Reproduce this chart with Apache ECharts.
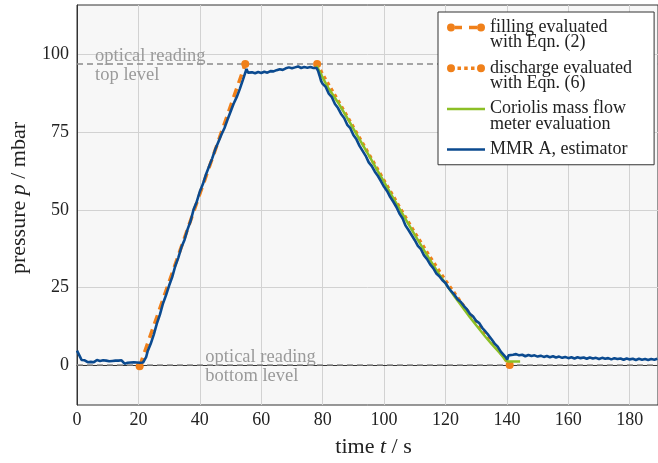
<!DOCTYPE html>
<html>
<head>
<meta charset="utf-8">
<script src="https://cdn.jsdelivr.net/npm/echarts@6/dist/echarts.min.js"></script>
<style>
  html, body { margin: 0; padding: 0; background: #fff; }
  #chart { width: 658px; height: 463px; }
</style>
</head>
<body>
<div id="chart"></div>
<script>
var serif = "'Liberation Serif', 'DejaVu Serif', serif";

/* Values: [time t / s, pressure p / mbar]. */
var filling_eval = [[20.4, -0.4], [54.8, 97.0]];

var discharge_eval = [
    [78.2, 97.0], [80, 93.6], [85, 85.2], [90, 76.6], [95, 68.0], [100, 59.4],
    [105, 50.9], [110, 42.6], [115, 34.7], [120, 27.2], [125, 20.2], [130, 13.8],
    [135, 7.6], [138, 3.9], [140.9, 0.0]
];

var coriolis = [
    [78.0, 96.4], [79, 94.6], [80, 92.6], [82, 89.0], [85, 84.6], [88, 79.6], [90, 76.2],
    [93, 71.0], [95, 67.6], [98, 62.4], [100, 59.0], [103, 53.8], [105, 50.4], [108, 45.3],
    [110, 41.9], [113, 37.0], [115, 33.8], [118, 29.2], [120, 26.3], [123, 22.0], [125, 19.3],
    [128, 15.3], [130, 12.8], [133, 9.1], [135, 6.8], [137, 4.6], [138.5, 2.9], [139.6, 1.4],
    [140.5, 1.1], [144.3, 1.1]
];

var mmr_a = [
    [0, 4.6], [0.5, 4.0], [1, 2.6], [1.5, 1.6], [2, 1.1], [2.5, 1.5], [3, 1.2], [3.5, 0.9],
    [4, 1.3], [4.5, 1.0], [5, 1.4], [5.5, 0.9], [6, 1.2], [6.5, 1.6], [7, 1.0], [7.5, 1.3],
    [8, 0.9], [8.5, 1.5], [9, 1.1], [9.5, 1.4], [10, 0.8], [10.5, 1.2], [11, 1.0], [11.5, 1.3],
    [12, 0.9], [12.5, 1.4], [13, 1.8], [13.5, 1.4], [14, 1.2], [14.5, 1.5], [15, 1.0], [15.5, 0.4],
    [16, 0.9], [16.5, 0.7], [17, 1.1], [17.5, 0.8], [18, 0.6], [18.5, 0.9], [19, 0.7], [19.5, 0.8],
    [20, 0.5], [20.5, 0.7], [21, 0.6], [21.5, 0.8], [22, 0.9], [22.5, 2.5], [23, 4.4], [24, 6.8],
    [25, 9.8], [26, 13.3], [27, 16.2], [28, 19.8], [29, 22.5], [30, 25.6], [31, 28.3], [32, 31.9],
    [33, 34.6], [34, 37.9], [35, 40.3], [36, 43.7], [37, 46.4], [38, 50.2], [39, 52.6], [40, 55.9],
    [41, 58.3], [42, 61.4], [43, 64.0], [44, 66.5], [45, 69.4], [46, 71.8], [47, 74.2], [48, 76.3],
    [49, 79.0], [50, 81.6], [51, 84.2], [52, 86.3], [53, 88.9], [54, 91.8], [54.8, 94.2], [55.2, 95.4],
    [55.7, 94.2], [56.3, 93.9], [57, 94.3], [58, 94.0], [59, 94.4], [60, 94.1], [61, 94.5], [62, 94.2],
    [63, 94.7], [64, 94.6], [65, 95.0], [66, 95.3], [67, 95.1], [68, 95.6], [69, 95.9], [70, 95.6],
    [71, 95.9], [72, 96.2], [73, 95.7], [74, 96.0], [75, 95.8], [76, 96.0], [77, 95.7], [78, 95.7],
    [78.5, 94.8], [79, 93.2], [79.5, 91.5], [80, 90.6], [81, 89.6], [82, 87.4], [83, 86.3], [84, 84.1],
    [85, 82.8], [86, 80.9], [87, 79.6], [88, 77.4], [89, 76.3], [90, 74.1], [91, 72.7], [92, 70.6],
    [93, 69.0], [94, 67.4], [95, 65.3], [96, 64.1], [97, 62.3], [98, 60.9], [99, 59.2], [100, 57.4],
    [101, 56.0], [102, 54.1], [103, 52.6], [104, 50.9], [105, 48.8], [106, 47.3], [107, 44.9], [108, 43.4],
    [109, 41.8], [110, 40.2], [111, 38.4], [112, 37.3], [113, 35.3], [114, 34.1], [115, 32.4], [116, 31.2],
    [117, 29.5], [118, 28.6], [119, 27.3], [120, 26.4], [121, 24.8], [122, 23.6], [123, 22.5], [124, 21.1],
    [125, 20.3], [126, 19.0], [127, 17.9], [128, 16.4], [129, 15.6], [130, 14.2], [131, 13.5], [132, 11.9],
    [133, 10.8], [134, 9.6], [135, 8.3], [136, 6.9], [137, 5.9], [138, 4.3], [139, 3.2], [139.7, 2.4],
    [140.1, 1.7], [140.5, 3.1], [141, 3.4], [142, 3.3], [143, 3.5], [144, 3.1], [145, 3.3], [146, 2.8],
    [147, 3.2], [148, 2.9], [149, 3.1], [150, 2.7], [151, 3.0], [152, 2.6], [153, 2.9], [154, 2.5],
    [155, 2.8], [156, 2.4], [157, 2.7], [158, 2.3], [159, 2.6], [160, 2.2], [161, 2.5], [162, 2.1],
    [163, 2.5], [164, 2.2], [165, 2.4], [166, 2.0], [167, 2.4], [168, 2.1], [169, 2.3], [170, 1.9],
    [171, 2.3], [172, 2.0], [173, 2.2], [174, 1.8], [175, 2.2], [176, 1.9], [177, 2.1], [178, 1.7],
    [179, 2.1], [180, 1.8], [181, 2.0], [182, 1.6], [183, 2.0], [184, 1.7], [185, 1.9], [186, 1.6],
    [187, 1.9], [188, 1.7], [189, 2.0]
];

/* Optical reading levels and where their notes sit. */
var optical_levels = [97, 0];
var optical_notes = [
    { coord: [5.9, 97], text: 'optical reading\ntop level' },
    { coord: [41.8, 0], text: 'optical reading\nbottom level' }
];

var x_ticks = [0, 20, 40, 60, 80, 100, 120, 140, 160, 180];
var y_ticks = [0, 25, 50, 75, 100];

var names = [
    'filling evaluated\nwith Eqn. (2)',
    'discharge evaluated\nwith Eqn. (6)',
    'Coriolis mass flow\nmeter evaluation',
    'MMR A, estimator'
];

var orange = '#f0801a', green = '#8cbf26', blue = '#0b4a8f';

/* Legend glyphs: dots at both ends like the plotted lines. */
var dot_l = 'M0,4A4,4 0 1 1 8,4A4,4 0 1 1 0,4Z';
var dot_r = 'M30,4A4,4 0 1 1 38,4A4,4 0 1 1 30,4Z';
var icon_dashed = 'path://' + dot_l + 'M8,2.3H15V5.7H8ZM22,2.3H30V5.7H22Z' + dot_r;
var icon_dotted = 'path://' + dot_l + 'M10.5,2.2H14V5.8H10.5ZM17.2,2.2H20.7V5.8H17.2ZM24,2.2H27.5V5.8H24Z' + dot_r;
var icon_solid = 'path://M0,0H38V2.6H0Z';

/* Marker only on the first and last point of a line. */
function endDots(data) {
    return function (value, params) {
        return (params.dataIndex === 0 || params.dataIndex === data.length - 1) ? 8 : 0;
    };
}

var chart = echarts.init(document.getElementById('chart'), null, { renderer: 'canvas' });

var two_line = { padding: [7.5, 0, -7.5, 0] };

var option = {
    animation: false,
    backgroundColor: '#ffffff',
    textStyle: { fontFamily: serif },
    grid: {
        left: 76, right: -2, top: 5, bottom: 57,
        show: true,
        backgroundColor: '#f7f7f7',
        borderColor: '#333333',
        borderWidth: 1
    },
    legend: {
        z: 20,
        left: 438,
        top: 12,
        orient: 'vertical',
        align: 'left',
        selectedMode: false,
        itemWidth: 38,
        itemHeight: 8,
        itemGap: 1,
        padding: [0, 22, 0, 9],
        backgroundColor: '#ffffff',
        borderColor: '#333333',
        borderWidth: 1,
        itemStyle: { borderWidth: 0 },
        textStyle: {
            fontFamily: serif, fontSize: 18, color: '#222222', lineHeight: 15.5,
            rich: { n: { fontFamily: serif, fontSize: 18 } }
        },
        data: [
            { name: names[0], textStyle: two_line, icon: icon_dashed },
            { name: names[1], textStyle: two_line, icon: icon_dotted },
            { name: names[2], textStyle: two_line, icon: icon_solid },
            { name: names[3], textStyle: { padding: [7.5, 0, 7.5, 0] }, icon: icon_solid }
        ]
    },
    xAxis: {
        type: 'value',
        min: 0,
        max: 189.2,
        interval: 20,
        name: 'time {i|t} / s',
        nameLocation: 'middle',
        nameGap: 31,
        nameTextStyle: {
            fontFamily: serif, fontSize: 22, color: '#222222',
            padding: [0, 0, 0, 12],
            rich: { i: { fontFamily: serif, fontSize: 22, fontStyle: 'italic', color: '#222222' } }
        },
        axisLine: { show: true, lineStyle: { color: '#333333', width: 1 } },
        axisTick: { show: false },
        axisLabel: {
            fontFamily: serif, fontSize: 18, color: '#222222', margin: 6,
            customValues: x_ticks
        },
        splitLine: { show: true, lineStyle: { color: '#d2d2d2', width: 1 } }
    },
    yAxis: {
        type: 'value',
        min: -12.9,
        max: 116,
        name: 'pressure {i|p} / mbar',
        nameLocation: 'middle',
        nameGap: 47,
        nameTextStyle: {
            fontFamily: serif, fontSize: 22, color: '#222222',
            padding: [0, 0, 0, 14],
            rich: { i: { fontFamily: serif, fontSize: 22, fontStyle: 'italic', color: '#222222' } }
        },
        axisLine: { show: true, lineStyle: { color: '#333333', width: 1 } },
        axisTick: { show: false, customValues: y_ticks },
        axisLabel: {
            fontFamily: serif, fontSize: 18, color: '#222222', margin: 8,
            customValues: y_ticks
        },
        splitLine: { show: true, lineStyle: { color: '#d2d2d2', width: 1 } }
    },
    series: [
        {
            name: names[0],
            type: 'line',
            data: filling_eval,
            color: orange,
            symbol: 'circle',
            symbolSize: endDots(filling_eval),
            itemStyle: { color: orange, borderWidth: 0 },
            lineStyle: { color: orange, width: 3.5, type: [9, 6], cap: 'butt' },
            emphasis: { disabled: true },
            z: 2,
            markLine: {
                z: 1,
                silent: true,
                symbol: ['none', 'none'],
                label: { show: false },
                lineStyle: { color: '#8a8a8a', width: 1.5, type: [6, 4] },
                data: optical_levels.map(function (v) { return { yAxis: v }; })
            },
            markPoint: {
                z: 1,
                silent: true,
                symbol: 'circle',
                symbolSize: 0,
                label: {
                    show: true, position: 'right', distance: 0, offset: [0, 1.5],
                    fontFamily: serif, fontSize: 18.5, lineHeight: 19, color: '#9a9a9a', align: 'left'
                },
                data: optical_notes.map(function (n) {
                    return { coord: n.coord, label: { formatter: n.text } };
                })
            }
        },
        {
            name: names[1],
            type: 'line',
            data: discharge_eval,
            color: orange,
            symbol: 'circle',
            symbolSize: endDots(discharge_eval),
            itemStyle: { color: orange, borderWidth: 0 },
            lineStyle: { color: orange, width: 3.5, type: [3.5, 3.5], cap: 'butt' },
            emphasis: { disabled: true },
            z: 2
        },
        {
            name: names[2],
            type: 'line',
            data: coriolis,
            color: green,
            showSymbol: false,
            itemStyle: { color: green, borderWidth: 0 },
            lineStyle: { color: green, width: 2.5 },
            emphasis: { disabled: true },
            z: 3
        },
        {
            name: names[3],
            type: 'line',
            data: mmr_a,
            color: blue,
            showSymbol: false,
            itemStyle: { color: blue, borderWidth: 0 },
            lineStyle: { color: blue, width: 2.6 },
            emphasis: { disabled: true },
            z: 4
        }
    ]
};

chart.setOption(option);
</script>
</body>
</html>
